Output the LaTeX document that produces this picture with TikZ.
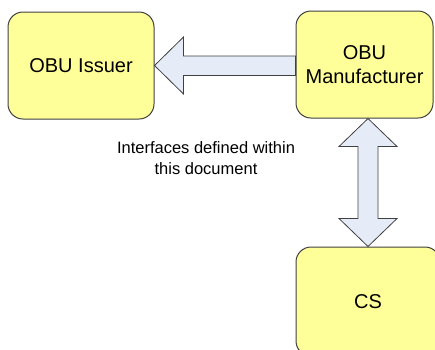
\documentclass[tikz,border=0pt]{standalone}
\usepackage{fontspec}
\setmainfont{Liberation Sans}
\usetikzlibrary{calc, positioning}

\definecolor{boxfill}{HTML}{FFFF99}
\definecolor{arrowfill}{HTML}{E6ECF7}
\definecolor{edgegray}{HTML}{404040}

\begin{document}
\begin{tikzpicture}[
      x=1pt, y=-1pt,
      party/.style = {
          draw=edgegray,
          fill=boxfill,
          line width=1pt,
          rounded corners=15pt,
          minimum height=107pt,
          align=center,
          font=\fontsize{20}{24}\selectfont,
        },
      fatarrow/.style = {
          draw=edgegray,
          fill=arrowfill,
          line width=0.8pt,
        },
      note/.style = {
          align=center,
          font=\fontsize{16.5}{21}\selectfont,
        },
    ]

    \useasboundingbox (0,0) rectangle (435,349);
    \clip (0,0) rectangle (435,349);

    \node[party, minimum width=146pt](issuer) at (81,65.5) {OBU Issuer};
    \node[party, minimum width=137pt](manuf) at (364.5,64.5) {OBU\\Manufacturer};
    \node[party, minimum width=144pt, minimum height=109pt](cs) at (368,301.5) {CS};

    \node[note](remark) at (206,158) {Interfaces defined within\\this document};

    % manufacturer -> issuer
    \coordinate (hbase) at ($(issuer.east)+(29,0)$);
    \draw[fatarrow](issuer.east) -- ($(hbase)+(0,-28.5)$) -- ($(hbase)+(0,-9.5)$)
      -- ($(manuf.west |- hbase)+(0,-9.5)$) -- ($(manuf.west |- hbase)+(0,10)$)
      -- ($(hbase)+(0,10)$) -- ($(hbase)+(0,28.5)$) -- cycle;

    % manufacturer <-> cs
    \coordinate (vtop) at (cs.north |- manuf.south);
    \draw[fatarrow](vtop) -- ($(vtop)+(29,28)$) -- ($(vtop)+(10,28)$)
      -- ($(cs.north)+(10,-28)$) -- ($(cs.north)+(29,-28)$) -- (cs.north)
      -- ($(cs.north)+(-29,-28)$) -- ($(cs.north)+(-10,-28)$)
      -- ($(vtop)+(-10,28)$) -- ($(vtop)+(-29,28)$) -- cycle;

  \end{tikzpicture}
\end{document}
